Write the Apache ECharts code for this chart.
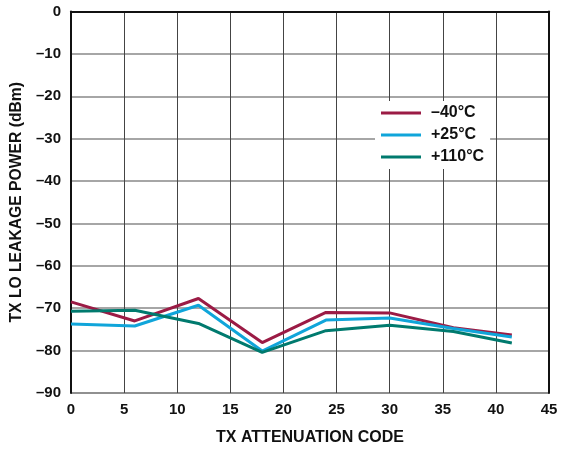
<!DOCTYPE html>
<html><head><meta charset="utf-8">
<script src="https://cdn.jsdelivr.net/npm/echarts@6/dist/echarts.min.js"></script>
<style>html,body{margin:0;padding:0;background:#fff}#c{width:569px;height:451px}</style>
</head><body><div id="c"></div>
<script>
const codes = [0, 6, 12, 18, 24, 30, 36, 41.5];
const m40 = [-68.5, -73.0, -67.7, -78.1, -71.0, -71.1, -74.6, -76.3];
const p25 = [-73.7, -74.2, -69.3, -80.1, -72.8, -72.3, -74.8, -76.8];
const p110 = [-70.7, -70.5, -73.6, -80.4, -75.3, -74.0, -75.5, -78.2];
const names = ['\u201340\u00b0C', '+25\u00b0C', '+110\u00b0C'];
const colors = ['#9B1B45', '#10A5DA', '#007A6E'];
const font = 'Liberation Sans, Arial, sans-serif';
const pair = (xs, ys) => xs.map((x, i) => [x, ys[i]]);
const fmtY = v => v < 0 ? '\u2013' + Math.abs(v) : String(v);
const chart = echarts.init(document.getElementById('c'));
chart.setOption({
  animation: false,
  grid: {left: 71, right: 20, top: 11.5, bottom: 57, show: true, borderColor: '#555', borderWidth: 1},
  legend: {
    data: names, orient: 'vertical', left: 375, top: 101, itemWidth: 40, itemHeight: 3, itemGap: 6,
    backgroundColor: '#fff', padding: [4, 6, 4, 6],
    textStyle: {fontFamily: font, fontWeight: 'bold', fontSize: 16, color: '#111', padding: [0, 0, 0, 5]},
    icon: 'rect'
  },
  xAxis: [{
    type: 'value', min: 0, max: 45, interval: 5,
    name: 'TX ATTENUATION CODE', nameLocation: 'middle', nameGap: 37,
    nameTextStyle: {fontFamily: font, fontWeight: 'bold', fontSize: 16, color: '#111'},
    axisLine: {lineStyle: {color: '#111', width: 2}},
    axisTick: {show: false},
    axisLabel: {fontFamily: font, fontWeight: 'bold', fontSize: 15, color: '#111', margin: 9},
    splitLine: {lineStyle: {color: '#444', width: 1}}
  }],
  yAxis: [{
    type: 'value', min: -90, max: 0, interval: 10,
    name: 'TX LO LEAKAGE POWER (dBm)', nameLocation: 'middle', nameGap: 44,
    nameTextStyle: {fontFamily: font, fontWeight: 'bold', fontSize: 15.7, color: '#111'},
    axisLine: {show: true, lineStyle: {color: '#111', width: 2}},
    axisTick: {show: false},
    axisLabel: {fontFamily: font, fontWeight: 'bold', fontSize: 15, color: '#111', margin: 10, formatter: fmtY},
    splitLine: {lineStyle: {color: '#888', width: 1.5}}
  }, {
    type: 'value', min: -90, max: 0, interval: 10, position: 'right',
    axisLine: {show: true, lineStyle: {color: '#111', width: 2}},
    axisTick: {show: false}, axisLabel: {show: false}, splitLine: {show: false}
  }],
  series: [m40, p25, p110].map((ys, i) => ({
    name: names[i], type: 'line', data: pair(codes, ys), showSymbol: false,
    lineStyle: {color: colors[i], width: 3}, itemStyle: {color: colors[i]}
  }))
});
</script></body></html>
